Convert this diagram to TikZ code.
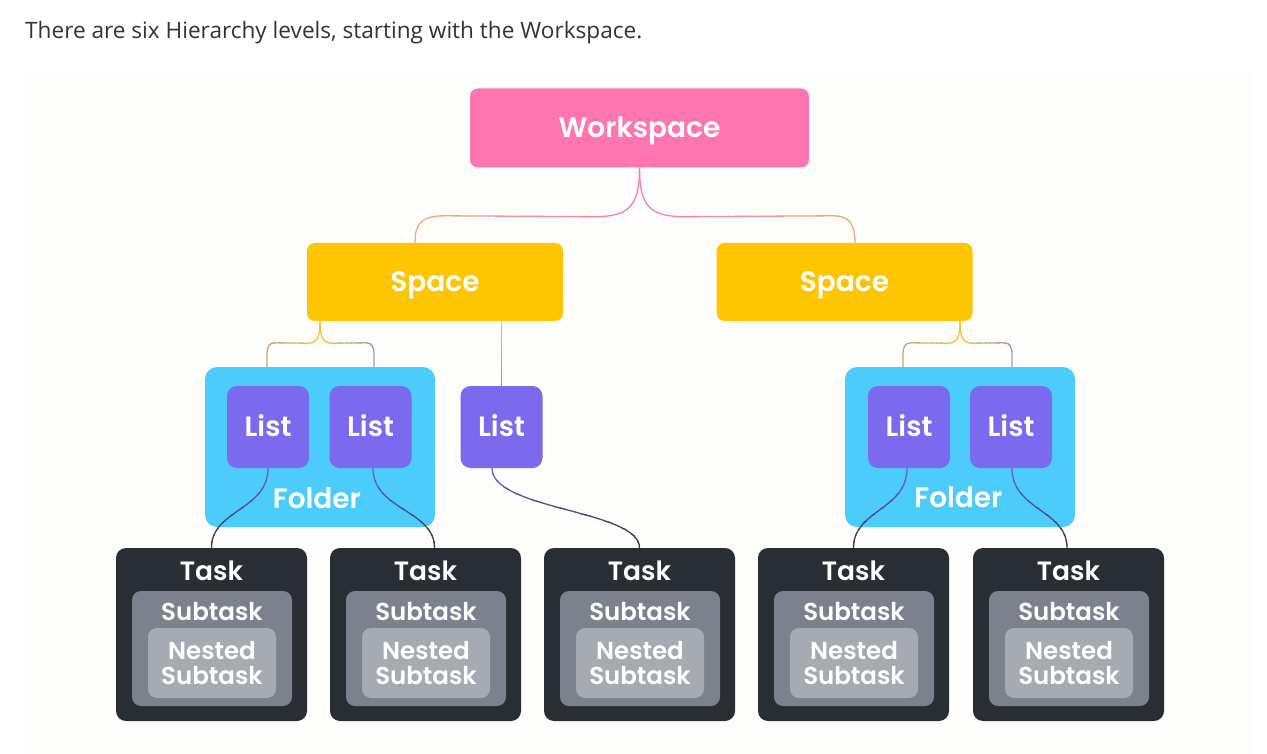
\documentclass[tikz,border=0pt]{standalone}
\usepackage{fontspec}
\newfontfamily\pop{Poppins}[BoldFont={Poppins SemiBold}]
\newfontfamily\hdrfont{Open Sans}
\usetikzlibrary{calc}
\definecolor{wspink}{HTML}{FF75B0}
\definecolor{spyel}{HTML}{FEC602}
\definecolor{fdblue}{HTML}{4BCCFA}
\definecolor{lspur}{HTML}{7B69EE}
\definecolor{tkdark}{HTML}{292D34}
\definecolor{stgray}{HTML}{7C828D}
\definecolor{nsgray}{HTML}{A6AAB3}
\definecolor{panelc}{HTML}{FDFDFB}
\definecolor{hdrc}{HTML}{333333}
\definecolor{wsline}{HTML}{FF7AB0}
\definecolor{orline}{HTML}{F3AA78}
\definecolor{yline}{HTML}{F7C53A}
\definecolor{tanline}{HTML}{C8A67E}
\definecolor{gpline}{HTML}{A89BB0}
\definecolor{stline}{HTML}{9A8ED8}
\definecolor{lsline}{HTML}{7262DC}
\definecolor{tkline}{HTML}{373848}
\tikzset{
  conn/.style={line width=1.3pt},
  boxbase/.style={rectangle, inner sep=0pt, text=white, draw=none},
  wsbox/.style={boxbase, fill=wspink, rounded corners=8pt, minimum width=339pt, minimum height=79pt,
    font=\pop\bfseries\fontsize{28}{32}\selectfont, text height=19.6pt, text depth=0pt},
  spbox/.style={boxbase, fill=spyel, rounded corners=8pt, minimum width=256pt, minimum height=78pt,
    font=\pop\bfseries\fontsize{28}{30}\selectfont, text height=19.5pt, text depth=0pt},
  fdbox/.style={boxbase, fill=fdblue, rounded corners=12pt, minimum width=230pt, minimum height=160pt},
  lsbox/.style={boxbase, fill=lspur, rounded corners=10pt, minimum width=82pt, minimum height=82pt,
    font=\pop\bfseries\fontsize{28}{30}\selectfont, text height=19.5pt, text depth=0pt},
  tkbox/.style={boxbase, fill=tkdark, rounded corners=10pt, minimum width=191pt, minimum height=173pt},
  stbox/.style={boxbase, fill=stgray, rounded corners=9pt, minimum width=160pt, minimum height=115pt},
  nsbox/.style={boxbase, fill=nsgray, rounded corners=9pt, minimum width=128pt, minimum height=70pt},
  lbl/.style={inner sep=0pt, text=white, font=\pop\bfseries\fontsize{28}{30}\selectfont, anchor=base},
  lbltask/.style={inner sep=0pt, text=white, font=\pop\bfseries\fontsize{26.5}{28}\selectfont, anchor=base},
  lbltwo/.style={inner sep=0pt, text=white, font=\pop\bfseries\fontsize{24.5}{28}\selectfont, anchor=base},
  hdr/.style={inner sep=0pt, text=hdrc, font=\hdrfont\fontsize{22.6}{26}\selectfont, anchor=base west}
}
\newcommand\gline[6]{%
  \foreach \k in {0,...,11}{%
    \pgfmathsetmacro\glo{#5+(#6-#5)*\k/12}%
    \pgfmathsetmacro\ghi{#5+(#6-#5)*(\k+1)/12}%
    \pgfmathsetmacro\ga{min(\glo,\ghi)-0.5}%
    \pgfmathsetmacro\gb{max(\glo,\ghi)+0.5}%
    \pgfmathtruncatemacro\gpc{100-\k*100/11}%
    \colorlet{gtmp}{#2!\gpc!#3}%
    \begin{scope}
      \ifx#4x\clip (\ga,0) rectangle (\gb,754);\else\clip (0,\ga) rectangle (1267,\gb);\fi
      \draw[conn,draw=gtmp] #1;
    \end{scope}%
  }%
}
\begin{document}
\begin{tikzpicture}[x=1pt,y=-1pt]
\path[use as bounding box, fill=white] (0,0) rectangle (1267,754);
\fill[panelc] (25,72) rectangle (1253,754);
\node[hdr] (hdr) at (25,39) {There are six Hierarchy levels, starting with the Workspace.};

\node[wsbox] (ws) at (639.5,128) {Workspace};
\node[spbox] (spL) at (435,282) {Space};
\node[spbox] (spR) at (844.5,282) {Space};
\node[fdbox] (fL) at (320,447) {};
\node[fdbox] (fR) at (960,447) {};
\node[lsbox] (lA) at (268,427) {List};
\node[lsbox] (lB) at (370.5,427) {List};
\node[lsbox] (lC) at (501.5,427) {List};
\node[lsbox] (lD) at (909,427) {List};
\node[lsbox] (lE) at (1011,427) {List};
\node[lbl] (fLt) at ($(fL.south)+(-3,-19)$) {Folder};
\node[lbl] (fRt) at ($(fR.south)+(-1.5,-19.5)$) {Folder};

\foreach \i/\x in {1/211.5,2/425.5,3/639.5,4/853.5,5/1068.5}{
  \node[tkbox] (t\i) at (\x,634.5) {};
  \node[stbox] (s\i) at (\x+0.5,648.5) {};
  \node[nsbox] (n\i) at (\x+0.5,663) {};
  \node[lbltask] (tl\i) at (\x,580) {Task};
  \node[lbltwo] (sl\i) at (\x+0.5,620) {Subtask};
  \node[lbltwo] (nla\i) at (\x+0.5,659) {Nested};
  \node[lbltwo] (nlb\i) at (\x+0.5,684) {Subtask};
}

\coordinate (jL) at (fL.north |- spL.south);
\coordinate (jR) at (fR.north |- spR.south);

% workspace -> spaces
\gline{(ws.south) .. controls ($(ws.south)+(0,38)$) and ($(ws.south)+(-10,49)$) .. ($(ws.south)+(-45,49)$) -- ($(spL.north)+(10,-27)$) .. controls ($(spL.north)+(-15,-27)$) and ($(spL.north)+(-20,-18)$) .. ($(spL.north)+(-20,0)$)}{wsline}{orline}{x}{641}{414}
\gline{(ws.south) .. controls ($(ws.south)+(0,38)$) and ($(ws.south)+(10,49)$) .. ($(ws.south)+(45,49)$) -- ($(spR.north)+(-11.5,-27)$) .. controls ($(spR.north)+(5.5,-27)$) and ($(spR.north)+(10.5,-18)$) .. ($(spR.north)+(10.5,0)$)}{wsline}{orline}{x}{638}{856}

% space -> folder lists
\gline{(jL) .. controls ($(jL)+(0,17)$) and ($(jL)+(-3,22)$) .. ($(jL)+(-13,22)$) -- ($(fL.north)+(-45,-24)$) .. controls ($(fL.north)+(-51,-24)$) and ($(fL.north)+(-53,-20)$) .. ($(fL.north)+(-53,-12)$) -- ($(fL.north)+(-53,0)$)}{yline}{tanline}{x}{321.5}{266}
\gline{(jL) .. controls ($(jL)+(0,17)$) and ($(jL)+(3,22)$) .. ($(jL)+(13,22)$) -- ($(fL.north)+(46,-24)$) .. controls ($(fL.north)+(52,-24)$) and ($(fL.north)+(54,-20)$) .. ($(fL.north)+(54,-12)$) -- ($(fL.north)+(54,0)$)}{yline}{gpline}{x}{318.5}{375}
\gline{(jR) .. controls ($(jR)+(0,17)$) and ($(jR)+(-3,22)$) .. ($(jR)+(-13,22)$) -- ($(fR.north)+(-49,-24)$) .. controls ($(fR.north)+(-55,-24)$) and ($(fR.north)+(-57,-20)$) .. ($(fR.north)+(-57,-12)$) -- ($(fR.north)+(-57,0)$)}{yline}{tanline}{x}{961.5}{902}
\gline{(jR) .. controls ($(jR)+(0,17)$) and ($(jR)+(3,22)$) .. ($(jR)+(13,22)$) -- ($(fR.north)+(44,-24)$) .. controls ($(fR.north)+(50,-24)$) and ($(fR.north)+(52,-20)$) .. ($(fR.north)+(52,-12)$) -- ($(fR.north)+(52,0)$)}{yline}{gpline}{x}{958.5}{1013}
% space -> standalone list
\gline{(lC.north |- spL.south) -- (lC.north)}{yline}{stline}{y}{320}{387}

% lists -> tasks
\gline{(lA.south) .. controls ($(lA.south)+(0,42)$) and ($(t1.north)+(0,-38)$) .. (t1.north)}{lsline}{tkline}{y}{467}{549}
\gline{($(lB.south)+(2.5,0)$) .. controls ($(lB.south)+(2.5,42)$) and ($(t2.north)+(9,-38)$) .. ($(t2.north)+(9,0)$)}{lsline}{tkline}{y}{467}{549}
\gline{($(lC.south)+(-9.5,0)$) .. controls ($(lC.south)+(-9.5,42)$) and ($(t3.north)+(0,-38)$) .. (t3.north)}{lsline}{tkline}{y}{467}{549}
\gline{($(lD.south)+(-2,0)$) .. controls ($(lD.south)+(-2,42)$) and ($(t4.north)+(0,-38)$) .. (t4.north)}{lsline}{tkline}{y}{467}{549}
\gline{($(lE.south)+(1,0)$) .. controls ($(lE.south)+(1,42)$) and ($(t5.north)+(-1.5,-38)$) .. ($(t5.north)+(-1.5,0)$)}{lsline}{tkline}{y}{467}{549}
\end{tikzpicture}
\end{document}
